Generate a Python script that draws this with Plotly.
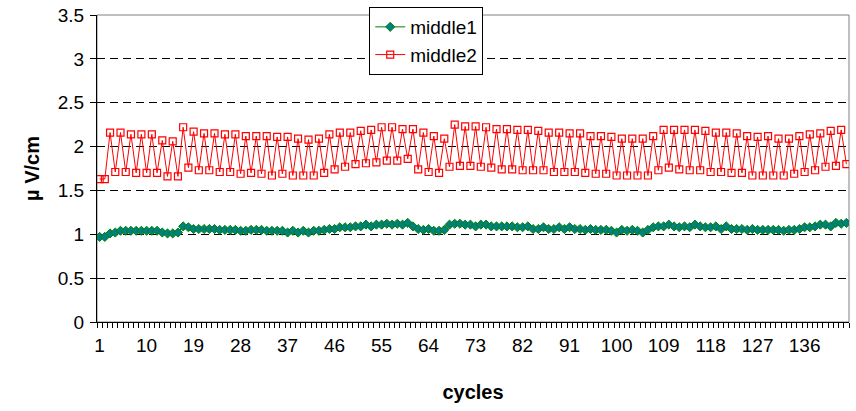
import plotly.graph_objects as go

cycles = list(range(1, 145))

middle1 = [
    0.97, 0.97, 1.01, 1.02, 1.04, 1.04, 1.04, 1.04, 1.04, 1.04,
    1.04, 1.04, 1.02, 1.01, 1.01, 1.02, 1.09, 1.08, 1.06, 1.06,
    1.06, 1.06, 1.06, 1.05, 1.05, 1.05, 1.05, 1.04, 1.04, 1.05,
    1.05, 1.05, 1.04, 1.04, 1.04, 1.04, 1.02, 1.04, 1.02, 1.04,
    1.02, 1.04, 1.04, 1.05, 1.06, 1.06, 1.08, 1.08, 1.08, 1.09,
    1.09, 1.11, 1.09, 1.11, 1.11, 1.12, 1.11, 1.12, 1.11, 1.13,
    1.09, 1.06, 1.05, 1.06, 1.04, 1.04, 1.05, 1.11, 1.12, 1.12,
    1.11, 1.11, 1.09, 1.11, 1.11, 1.09, 1.09, 1.09, 1.09, 1.09,
    1.08, 1.08, 1.09, 1.06, 1.06, 1.08, 1.06, 1.06, 1.08, 1.06,
    1.08, 1.06, 1.06, 1.05, 1.06, 1.05, 1.05, 1.05, 1.04, 1.02,
    1.05, 1.04, 1.05, 1.04, 1.02, 1.05, 1.08, 1.09, 1.09, 1.11,
    1.09, 1.08, 1.09, 1.08, 1.11, 1.09, 1.08, 1.08, 1.09, 1.06,
    1.09, 1.06, 1.06, 1.06, 1.05, 1.06, 1.05, 1.05, 1.05, 1.05,
    1.05, 1.04, 1.05, 1.05, 1.06, 1.08, 1.08, 1.09, 1.11, 1.11,
    1.09, 1.13, 1.12, 1.13,
]

middle2 = [
    1.63, 1.63, 2.16, 1.71, 2.16, 1.71, 2.14, 1.70, 2.14, 1.70,
    2.14, 1.70, 2.07, 1.66, 2.06, 1.66, 2.22, 1.76, 2.17, 1.73,
    2.15, 1.73, 2.15, 1.71, 2.14, 1.71, 2.14, 1.69, 2.12, 1.70,
    2.12, 1.69, 2.12, 1.67, 2.11, 1.69, 2.11, 1.67, 2.09, 1.67,
    2.08, 1.67, 2.09, 1.70, 2.14, 1.74, 2.16, 1.77, 2.16, 1.80,
    2.18, 1.81, 2.19, 1.82, 2.22, 1.84, 2.22, 1.84, 2.20, 1.86,
    2.20, 1.74, 2.16, 1.71, 2.12, 1.70, 2.09, 1.77, 2.25, 1.78,
    2.23, 1.78, 2.23, 1.77, 2.22, 1.76, 2.20, 1.74, 2.20, 1.74,
    2.19, 1.73, 2.19, 1.73, 2.18, 1.73, 2.16, 1.71, 2.16, 1.71,
    2.15, 1.71, 2.15, 1.70, 2.12, 1.69, 2.12, 1.69, 2.11, 1.67,
    2.09, 1.67, 2.09, 1.67, 2.09, 1.67, 2.12, 1.73, 2.19, 1.76,
    2.19, 1.74, 2.19, 1.73, 2.19, 1.73, 2.18, 1.71, 2.16, 1.71,
    2.16, 1.70, 2.15, 1.70, 2.12, 1.67, 2.11, 1.67, 2.12, 1.67,
    2.09, 1.67, 2.09, 1.69, 2.12, 1.71, 2.14, 1.73, 2.15, 1.77,
    2.18, 1.78, 2.19, 1.80,
]

x_tick_labels = [1, 10, 19, 28, 37, 46, 55, 64, 73, 82, 91, 100, 109, 118, 127, 136]
y_ticks = [0, 0.5, 1, 1.5, 2, 2.5, 3, 3.5]

FONT = "Liberation Sans, Arial, sans-serif"

fig = go.Figure()
fig.add_trace(go.Scatter(
    x=cycles, y=middle1, name="middle1", mode="lines+markers",
    line=dict(color="#008000", width=1),
    marker=dict(symbol="diamond", size=7, color="#008080",
                line=dict(color="#008000", width=1)),
))
fig.add_trace(go.Scatter(
    x=cycles, y=middle2, name="middle2", mode="lines+markers",
    line=dict(color="#FF0000", width=1),
    marker=dict(symbol="square-open", size=7, color="#FF0000",
                line=dict(color="#FF0000", width=1.2)),
))

# plot-area frame (gray), drawn above the grid but below the data
fig.add_shape(type="rect", xref="x domain", yref="y domain", x0=0, x1=1, y0=0, y1=1,
              line=dict(color="#808080", width=1), layer="below")

fig.update_layout(
    width=856, height=411,
    margin=dict(l=97, r=7, t=15, b=89, autoexpand=False),
    paper_bgcolor="white", plot_bgcolor="white",
    font=dict(family=FONT, size=19, color="black"),
    showlegend=True,
    legend=dict(
        x=0.362, y=1.026, xanchor="left", yanchor="top",
        bgcolor="white", bordercolor="black", borderwidth=1,
        font=dict(family=FONT, size=19, color="black"),
        itemwidth=30, tracegroupgap=0,
    ),
    xaxis=dict(
        range=[0.5, 144.5],
        automargin=False,
        tickmode="array", tickvals=x_tick_labels,
        ticktext=[str(v) for v in x_tick_labels],
        ticks="outside", ticklen=6, tickcolor="rgba(0,0,0,0)",
        minor=dict(ticks="outside", tick0=0.5, dtick=1, ticklen=5,
                   tickcolor="black", tickwidth=1, showgrid=False),
        showgrid=False, zeroline=False,
        showline=True, linecolor="black", linewidth=1,
        tickfont=dict(family=FONT, size=19, color="black"),
        ticklabeloverflow="allow",
        title=dict(text="<b>cycles</b>", font=dict(family=FONT, size=20, color="black"),
                   standoff=30),
    ),
    yaxis=dict(
        range=[0, 3.5],
        automargin=False,
        tickmode="array", tickvals=y_ticks,
        ticktext=[f"{v:g}" for v in y_ticks],
        ticks="outside", ticklen=6, tickcolor="black",
        ticklabelstandoff=2,
        ticklabeloverflow="allow",
        showgrid=True, gridcolor="black", gridwidth=1, griddash="8px,5px",
        zeroline=False,
        showline=True, linecolor="black", linewidth=1,
        tickfont=dict(family=FONT, size=19, color="black"),
        title=dict(text="<b>µ V/cm</b>", font=dict(family=FONT, size=20, color="black"),
                   standoff=12),
    ),
)

fig.write_html("out.html", config={"displayModeBar": False},
               post_script="document.body.style.margin='0';")
